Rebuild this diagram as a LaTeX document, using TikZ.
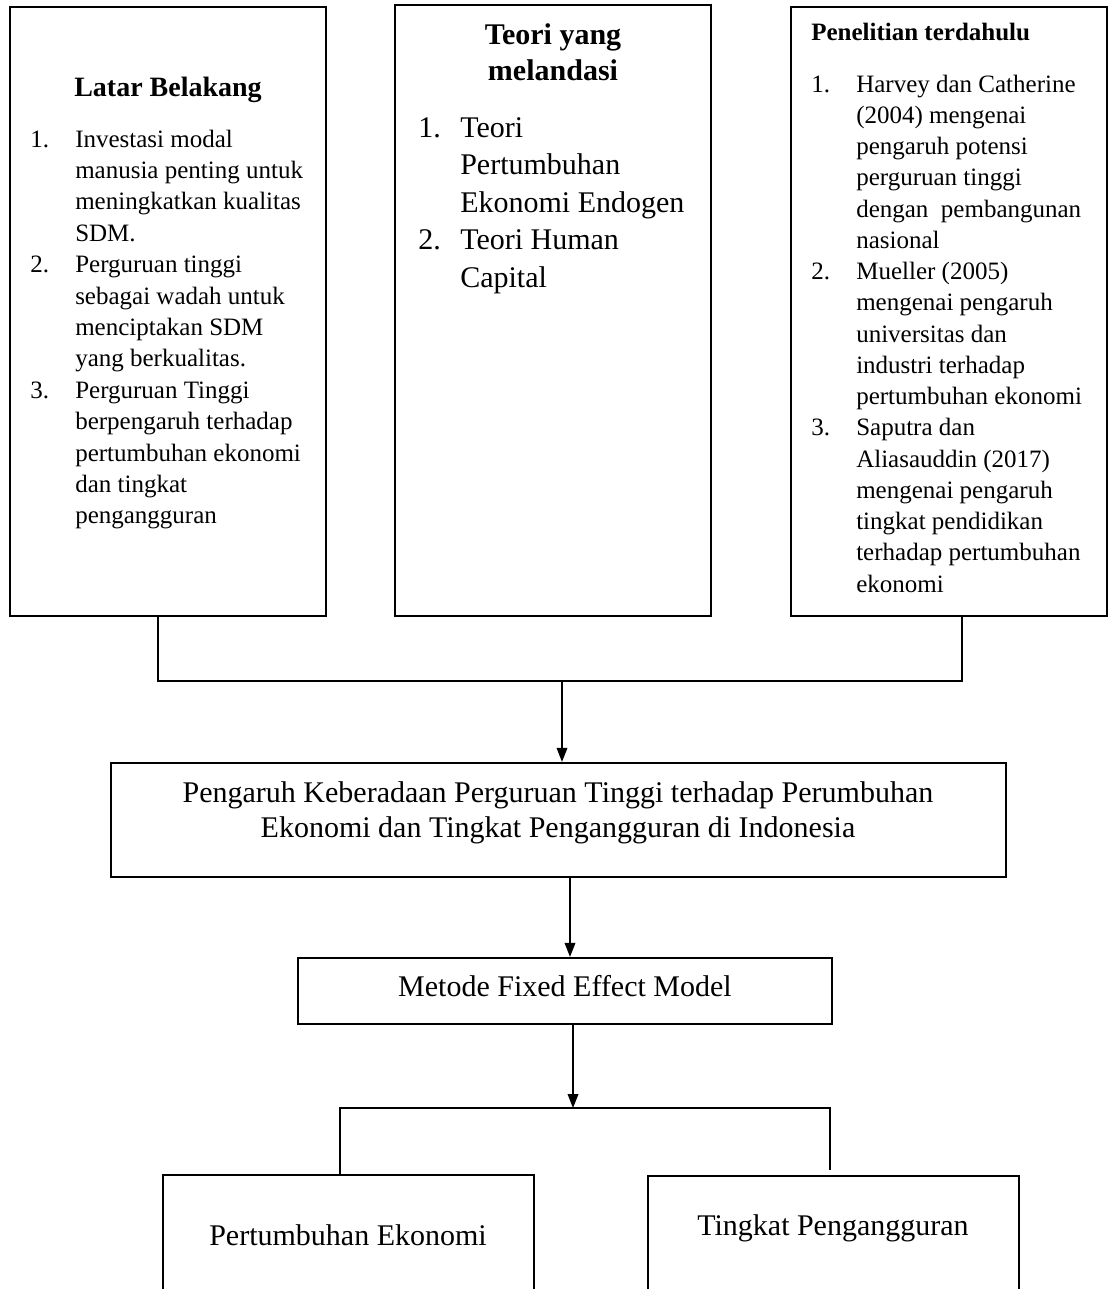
\documentclass[tikz,border=0pt]{standalone}
\usepackage{fontspec}
\setmainfont{Liberation Serif}
\usetikzlibrary{arrows.meta}
\begin{document}
\begin{tikzpicture}[x=0.75pt,y=-0.75pt,
  box/.style={draw, line width=1.7pt, inner sep=0pt},
  conn/.style={line width=1.1pt},
  arr/.style={conn, -{Triangle[length=10.5pt,width=8pt]}},
  sm/.style={font=\fontsize{18.75pt}{22pt}\selectfont, anchor=base west, inner sep=0pt},
  md/.style={font=\fontsize{22.5pt}{27pt}\selectfont, anchor=base west, inner sep=0pt},
  lg/.style={font=\fontsize{22.5pt}{27pt}\selectfont, anchor=base, inner sep=0pt},
  smb/.style={font=\bfseries\fontsize{18.75pt}{22pt}\selectfont, anchor=base west, inner sep=0pt},
  ttl/.style={font=\bfseries\fontsize{21pt}{25pt}\selectfont, anchor=base, inner sep=0pt},
  mdb/.style={font=\bfseries\fontsize{22.5pt}{27pt}\selectfont, anchor=base, inner sep=0pt}]
\useasboundingbox (0,0) rectangle (1113,1289);
\clip (0,0) rectangle (1113,1289);

% top boxes
\node[box, minimum width={316*0.75pt}, minimum height={609*0.75pt}] (lb) at (168,311.5) {};
\node[box, minimum width={316*0.75pt}, minimum height={611*0.75pt}] (mb) at (553,310.5) {};
\node[box, minimum width={316*0.75pt}, minimum height={609*0.75pt}] (rb) at (949,311.5) {};

% left box text
\node[ttl] (lt) at (168,96) {Latar Belakang};
\node[sm] (ln1) at (30,147) {1.};
\node[sm] (ln2) at (30,{147+4*31.4}) {2.};
\node[sm] (ln3) at (30,{147+8*31.4}) {3.};
\foreach \t [count=\i] in {Investasi modal, manusia penting untuk, meningkatkan kualitas, SDM., Perguruan tinggi, sebagai wadah untuk, menciptakan SDM, yang berkualitas., Perguruan Tinggi, berpengaruh terhadap, pertumbuhan ekonomi, dan tingkat, pengangguran}
  \node[sm] (l\i) at (75,{147+(\i-1)*31.4}) {\t};

% middle box text
\node[mdb] (mt1) at (553,44) {Teori yang};
\node[mdb] (mt2) at (553,80) {melandasi};
\node[md] (mn1) at (418,137) {1.};
\node[md] (mn2) at (418,{137+3*37.5}) {2.};
\foreach \t [count=\i] in {Teori, Pertumbuhan, Ekonomi Endogen, Teori Human, Capital}
  \node[md] (m\i) at (460,{137+(\i-1)*37.5}) {\t};

% right box text
\node[smb] (rt) at (811,40) {Penelitian terdahulu};
\node[sm] (rn1) at (811,92) {1.};
\node[sm] (rn2) at (811,{92+6*31.25}) {2.};
\node[sm] (rn3) at (811,{92+11*31.25}) {3.};
\foreach \t [count=\i] in {Harvey dan Catherine, (2004) mengenai, pengaruh potensi, perguruan tinggi, dengan\ \ pembangunan, nasional, Mueller (2005), mengenai pengaruh, universitas dan, industri terhadap, pertumbuhan ekonomi, Saputra dan, Aliasauddin (2017), mengenai pengaruh, tingkat pendidikan, terhadap pertumbuhan, ekonomi}
  \node[sm] (r\i) at (856,{92+(\i-1)*31.25}) {\t};

% middle boxes
\node[box, minimum width={895*0.75pt}, minimum height={114*0.75pt}] (big) at (558.5,820) {};
\node[lg] (bt1) at (558,802) {Pengaruh Keberadaan Perguruan Tinggi terhadap Perumbuhan};
\node[lg] (bt2) at (558,837) {Ekonomi dan Tingkat Pengangguran di Indonesia};

\node[box, minimum width={534*0.75pt}, minimum height={66*0.75pt}] (met) at (565,991) {};
\node[lg] (mtx) at (565,996) {Metode Fixed Effect Model};

% bottom boxes
\node[box, minimum width={371*0.75pt}, minimum height={155*0.75pt}] (pe) at (348.5,1252.5) {};
\node[lg] (pet) at (348,1245) {Pertumbuhan Ekonomi};
\node[box, minimum width={371*0.75pt}, minimum height={154*0.75pt}] (tp) at (833.5,1253) {};
\node[lg] (tpt) at (833,1235) {Tingkat Pengangguran};

% connectors top
\coordinate (j1) at (158,681);
\coordinate (j2) at (962,681);
\coordinate (jm) at (562,681);
\draw[conn] (lb.south -| j1) -- (j1) -- (j2) -- (rb.south -| j2);
\draw[arr] (jm) -- (big.north -| jm);

\coordinate (a2) at (570,0);
\draw[arr] (big.south -| a2) -- (met.north -| a2);

\coordinate (s) at (573,1108);
\coordinate (sl) at (340,1108);
\coordinate (sr) at (830,1108);
\coordinate (srend) at (830,1170);
\draw[arr] (met.south -| s) -- (s);
\draw[conn] (pe.north -| sl) -- (sl) -- (sr) -- (srend);
\end{tikzpicture}
\end{document}
